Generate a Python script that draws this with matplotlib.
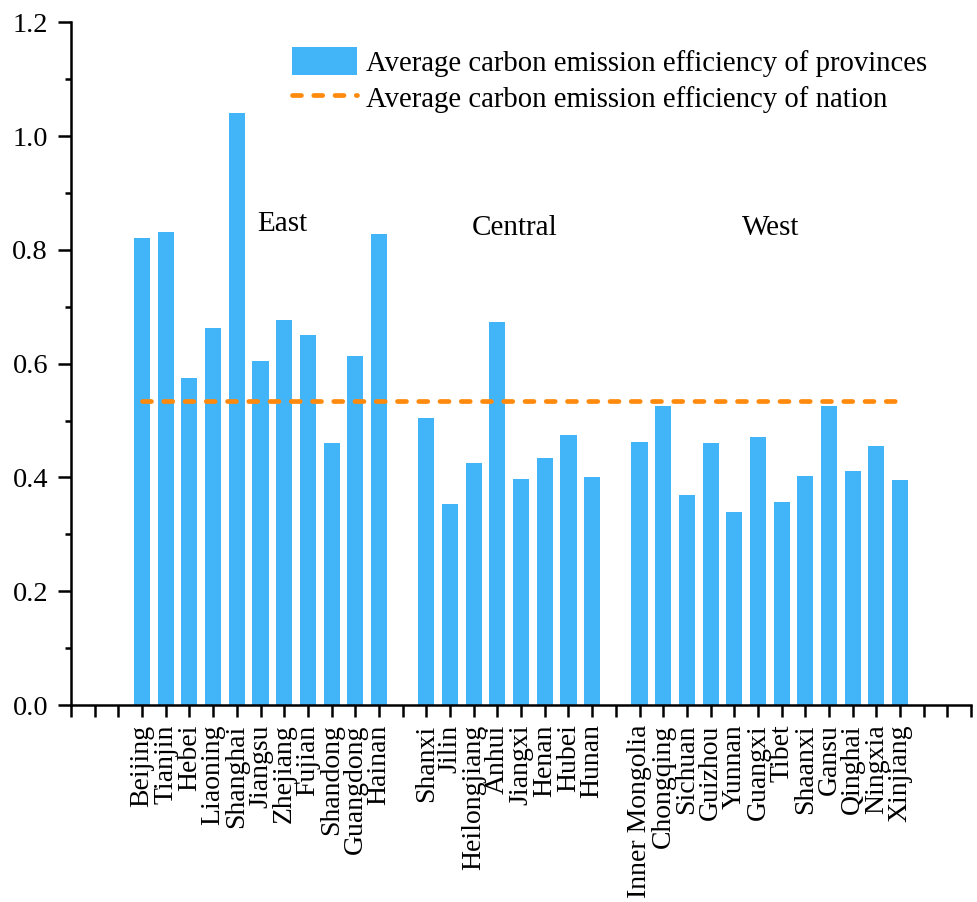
import matplotlib.pyplot as plt
import numpy as np
from matplotlib.ticker import MultipleLocator

plt.rcParams["font.family"] = ["Liberation Serif", "DejaVu Serif"]

# Provinces grouped by region, with average carbon emission efficiency
east = ["Beijing", "Tianjin", "Hebei", "Liaoning", "Shanghai", "Jiangsu",
        "Zhejiang", "Fujian", "Shandong", "Guangdong", "Hainan"]
east_vals = [0.821, 0.831, 0.575, 0.663, 1.040, 0.604,
             0.677, 0.651, 0.461, 0.614, 0.827]

central = ["Shanxi", "Jilin", "Heilongjiang", "Anhui", "Jiangxi", "Henan",
           "Hubei", "Hunan"]
central_vals = [0.504, 0.354, 0.426, 0.674, 0.398, 0.434, 0.475, 0.400]

west = ["Inner Mongolia", "Chongqing", "Sichuan", "Guizhou", "Yunnan",
        "Guangxi", "Tibet", "Shaanxi", "Gansu", "Qinghai", "Ningxia",
        "Xinjiang"]
west_vals = [0.463, 0.525, 0.369, 0.460, 0.339, 0.471, 0.357, 0.402,
             0.525, 0.412, 0.456, 0.395]

nation_avg = 0.535

# slot positions: three empty slots before East, one between groups
east_x = np.arange(3, 3 + len(east))
central_x = np.arange(east_x[-1] + 2, east_x[-1] + 2 + len(central))
west_x = np.arange(central_x[-1] + 2, central_x[-1] + 2 + len(west))
n_slots = 38

names = east + central + west
xs = np.concatenate([east_x, central_x, west_x])
vals = east_vals + central_vals + west_vals

fig = plt.figure(figsize=(9.78, 9.02), dpi=100)
ax = fig.add_axes([0.0726, 0.2184, 0.9204, 0.7569])

bar_color = "#42B4F8"
line_color = "#FF8A0E"

bars = ax.bar(xs, vals, width=0.68, color=bar_color,
              label="Average carbon emission efficiency of provinces")
avg_line, = ax.plot([xs[0], xs[-1]], [nation_avg, nation_avg],
                    color=line_color, linewidth=3.4,
                    linestyle=(0, (1.9, 2.6)), dash_capstyle="round",
                    label="Average carbon emission efficiency of nation")

ax.set_xlim(0, n_slots)
ax.set_ylim(0, 1.2)

# every slot gets a tick, only occupied slots get a label
ticks = np.arange(0, n_slots + 1)
labels = [""] * len(ticks)
for x, name in zip(xs, names):
    labels[x] = name
ax.set_xticks(ticks)
ax.set_xticklabels(labels, rotation=90, fontsize=20)

ax.yaxis.set_major_locator(MultipleLocator(0.2))
ax.yaxis.set_minor_locator(MultipleLocator(0.1))
ax.yaxis.set_major_formatter(lambda v, pos: f"{v:.1f}")
ax.tick_params(axis="y", labelsize=20.5)

for side in ["top", "right"]:
    ax.spines[side].set_visible(False)
for side in ["left", "bottom"]:
    ax.spines[side].set_linewidth(1.8)

ax.tick_params(axis="x", which="major", direction="out", length=8.5,
               width=1.8, pad=5.5)
ax.tick_params(axis="y", which="major", direction="out", length=9.5,
               width=1.8, pad=7)
ax.tick_params(axis="y", which="minor", direction="out", length=4.5,
               width=1.8)

# region names
ax.text(8.93, 0.846, "East", fontsize=21, ha="center", va="center")
ax.text(18.74, 0.839, "Central", fontsize=21, ha="center", va="center")
ax.text(29.55, 0.839, "West", fontsize=21, ha="center", va="center")

ax.legend(handles=[bars, avg_line], loc="upper left",
          bbox_to_anchor=(0.2986, 0.948),
          bbox_transform=fig.transFigure, frameon=False, fontsize=20.7,
          borderpad=0, borderaxespad=0, handlelength=2.25,
          handleheight=1.15, handletextpad=0.32, labelspacing=0.2)

fig.savefig("out.png", dpi=100)
